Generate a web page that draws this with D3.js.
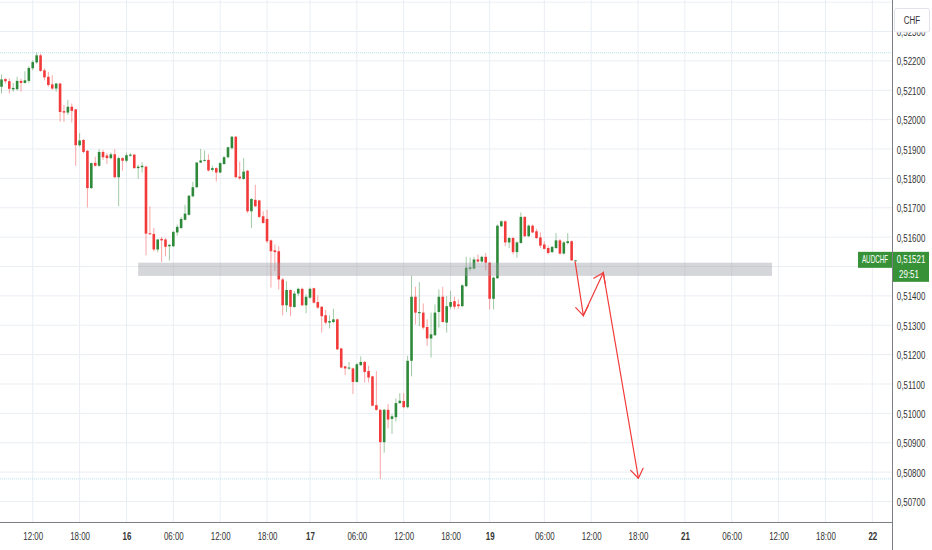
<!DOCTYPE html>
<html>
<head>
<meta charset="utf-8">
<script src="https://cdn.jsdelivr.net/npm/d3@7"></script>
<style>
  html, body { margin: 0; padding: 0; background: #fff; }
  svg { display: block; font-family: "Liberation Sans", Arial, sans-serif; }
</style>
</head>
<body>
<svg id="chart" width="932" height="550"></svg>
<script>
// AUDCHF, 30 minute bars
const symbol = "AUDCHF";
const currency = "CHF";
const countdown = "29:51";

const opens = [
  0.52112,0.52138,0.52131,0.52103,0.52104,0.52132,0.52125,0.52132,0.52175,0.52195,
  0.52219,0.52168,0.52146,0.52120,0.52106,0.52123,0.52029,0.52024,0.52044,0.52035,
  0.51913,0.51931,0.51894,0.51767,0.51853,0.51843,0.51890,0.51878,0.51869,0.51882,
  0.51804,0.51869,0.51860,0.51877,0.51881,0.51835,0.51838,0.51840,0.51613,0.51611,
  0.51558,0.51594,0.51592,0.51569,0.51569,0.51616,0.51631,0.51659,0.51676,0.51739,
  0.51770,0.51854,0.51860,0.51863,0.51829,0.51835,0.51820,0.51849,0.51872,0.51903,
  0.51942,0.51806,0.51798,0.51826,0.51688,0.51727,0.51725,0.51671,0.51662,0.51589,
  0.51555,0.51552,0.51456,0.51368,0.51420,0.51362,0.51408,0.51424,0.51368,0.51394,
  0.51426,0.51379,0.51363,0.51334,0.51309,0.51311,0.51320,0.51221,0.51160,0.51153,
  0.51153,0.51107,0.51164,0.51175,0.51144,0.51126,0.51028,0.51012,0.50902,0.51012,
  0.50981,0.50987,0.51035,0.51042,0.51021,0.51179,0.51397,0.51341,0.51343,0.51294,
  0.51255,0.51266,0.51345,0.51397,0.51309,0.51363,0.51382,0.51371,0.51365,0.51433,
  0.51492,0.51493,0.51524,0.51517,0.51533,0.51513,0.51390,0.51460,0.51637,0.51654,
  0.51582,0.51597,0.51549,0.51580,0.51669,0.51603,0.51639,0.51620,0.51599,0.51575,
  0.51563,0.51549,0.51563,0.51589,0.51544,0.51580,0.51586,0.51520
];
const highs = [
  0.52154,0.52142,0.52140,0.52125,0.52146,0.52140,0.52165,0.52182,0.52202,0.52228,
  0.52225,0.52174,0.52163,0.52151,0.52125,0.52125,0.52050,0.52067,0.52055,0.52036,
  0.51954,0.51933,0.51897,0.51854,0.51874,0.51899,0.51897,0.51886,0.51888,0.51899,
  0.51874,0.51872,0.51888,0.51886,0.51882,0.51846,0.51855,0.51843,0.51705,0.51631,
  0.51594,0.51601,0.51597,0.51575,0.51620,0.51643,0.51669,0.51710,0.51743,0.51788,
  0.51855,0.51900,0.51895,0.51882,0.51843,0.51838,0.51855,0.51877,0.51908,0.51944,
  0.51944,0.51857,0.51869,0.51829,0.51733,0.51778,0.51727,0.51688,0.51693,0.51592,
  0.51575,0.51569,0.51462,0.51450,0.51422,0.51416,0.51428,0.51428,0.51405,0.51428,
  0.51428,0.51402,0.51365,0.51352,0.51334,0.51356,0.51323,0.51224,0.51162,0.51175,
  0.51156,0.51171,0.51194,0.51178,0.51162,0.51128,0.51144,0.51015,0.51015,0.51032,
  0.50998,0.51051,0.51069,0.51069,0.51196,0.51469,0.51431,0.51447,0.51374,0.51320,
  0.51343,0.51371,0.51422,0.51431,0.51399,0.51416,0.51397,0.51388,0.51439,0.51533,
  0.51530,0.51533,0.51541,0.51537,0.51546,0.51515,0.51465,0.51643,0.51657,0.51657,
  0.51601,0.51601,0.51586,0.51684,0.51671,0.51643,0.51643,0.51628,0.51616,0.51586,
  0.51571,0.51569,0.51614,0.51594,0.51586,0.51614,0.51589,0.51522
];
const lows = [
  0.52089,0.52123,0.52089,0.52095,0.52098,0.52095,0.52123,0.52125,0.52168,0.52191,
  0.52163,0.52134,0.52112,0.52101,0.52095,0.51993,0.51993,0.52016,0.51990,0.51843,
  0.51908,0.51886,0.51701,0.51764,0.51840,0.51840,0.51863,0.51849,0.51865,0.51801,
  0.51705,0.51826,0.51854,0.51874,0.51833,0.51799,0.51820,0.51538,0.51609,0.51552,
  0.51549,0.51515,0.51535,0.51520,0.51567,0.51605,0.51628,0.51657,0.51673,0.51736,
  0.51767,0.51852,0.51857,0.51823,0.51823,0.51789,0.51818,0.51846,0.51869,0.51899,
  0.51801,0.51795,0.51795,0.51682,0.51631,0.51703,0.51665,0.51646,0.51580,0.51428,
  0.51484,0.51422,0.51334,0.51345,0.51331,0.51360,0.51399,0.51365,0.51341,0.51390,
  0.51374,0.51356,0.51275,0.51303,0.51289,0.51307,0.51216,0.51153,0.51130,0.51148,
  0.51066,0.51105,0.51162,0.51105,0.51105,0.51024,0.51009,0.50777,0.50866,0.50949,
  0.50930,0.50972,0.51032,0.51017,0.51017,0.51126,0.51303,0.51297,0.51286,0.51230,
  0.51190,0.51264,0.51292,0.51309,0.51275,0.51356,0.51354,0.51356,0.51363,0.51431,
  0.51484,0.51490,0.51513,0.51513,0.51487,0.51354,0.51354,0.51458,0.51635,0.51569,
  0.51563,0.51541,0.51530,0.51578,0.51601,0.51601,0.51614,0.51594,0.51563,0.51558,
  0.51541,0.51546,0.51560,0.51541,0.51541,0.51575,0.51519,0.51520
];
const closes = [
  0.52137,0.52131,0.52105,0.52108,0.52132,0.52125,0.52134,0.52176,0.52196,0.52219,
  0.52166,0.52144,0.52118,0.52106,0.52123,0.52026,0.52024,0.52044,0.52030,0.51913,
  0.51929,0.51890,0.51767,0.51852,0.51843,0.51890,0.51872,0.51869,0.51882,0.51804,
  0.51869,0.51860,0.51879,0.51881,0.51835,0.51840,0.51843,0.51612,0.51610,0.51558,
  0.51592,0.51589,0.51567,0.51574,0.51618,0.51635,0.51662,0.51680,0.51741,0.51770,
  0.51854,0.51861,0.51863,0.51827,0.51835,0.51820,0.51852,0.51872,0.51906,0.51942,
  0.51804,0.51800,0.51823,0.51688,0.51730,0.51705,0.51669,0.51648,0.51586,0.51552,
  0.51549,0.51456,0.51368,0.51420,0.51363,0.51408,0.51424,0.51368,0.51397,0.51424,
  0.51377,0.51360,0.51331,0.51309,0.51314,0.51320,0.51218,0.51156,0.51153,0.51156,
  0.51107,0.51167,0.51175,0.51141,0.51122,0.51026,0.51012,0.50902,0.51012,0.50979,
  0.50990,0.51035,0.51043,0.51021,0.51179,0.51397,0.51343,0.51345,0.51292,0.51255,
  0.51269,0.51343,0.51397,0.51311,0.51365,0.51379,0.51363,0.51365,0.51436,0.51496,
  0.51497,0.51524,0.51517,0.51533,0.51513,0.51390,0.51462,0.51639,0.51654,0.51582,
  0.51597,0.51549,0.51582,0.51669,0.51603,0.51639,0.51616,0.51597,0.51571,0.51560,
  0.51546,0.51567,0.51589,0.51544,0.51582,0.51586,0.51521,0.51521
];

// time axis: bar index of each tick and its label
const timeTickBars = [8, 20, 32, 44, 56, 68, 79, 91, 103, 115, 125, 139, 151, 163, 175, 187, 199, 211, 223];
const timeTickLabels = ["12:00", "18:00", "16", "06:00", "12:00", "18:00", "17", "06:00", "12:00", "18:00",
  "19", "06:00", "12:00", "18:00", "21", "06:00", "12:00", "18:00", "22"];

// price axis: grid levels and the levels that get a label
const priceGrid = d3.range(507, 525).map((d) => d / 1000);
const priceLabels = d3.range(507, 524).map((d) => d / 1000);

// drawn annotations: support zone and projected path (bar index / price)
const zoneBars = [35, 197.3];
const zonePrices = [0.51468, 0.51513];
const arrowBars = [146.9, 149.0, 154.1, 163.1];
const arrowPrices = [0.51516, 0.51333, 0.51479, 0.50779];

const svg = d3.select("#chart");
const height = +svg.attr("height");
const plotRight = 892;
const plotBottom = 522;
const squeeze = 0.69; // the screenshot text is horizontally narrow

const up = "#2e8a3a";
const down = "#f23a3a";
const labelGreen = "#379237";
const textColor = "#333";

const candles = opens.map((o, i) => ({ i, o, h: highs[i], l: lows[i], c: closes[i] }));

const x = d3.scaleLinear().domain([-0.384, 228.04]).range([0, plotRight]);
const y = d3.scaleLinear().domain([0.506301, 0.524074]).range([plotBottom, 0]);

const fmtPrice = (d) => d3.format(".5f")(d).replace(".", ",");
const last = closes[closes.length - 1];
const ly = y(last);

// grid
const grid = svg.append("g");
grid.selectAll(".hgrid")
  .data(priceGrid)
  .enter()
  .append("line")
  .attr("x1", 0)
  .attr("x2", plotRight)
  .attr("y1", (d) => y(d))
  .attr("y2", (d) => y(d))
  .attr("stroke", "#e9eef4")
  .attr("stroke-width", 1);

grid.selectAll(".vgrid")
  .data(timeTickBars)
  .enter()
  .append("line")
  .attr("x1", (d) => x(d))
  .attr("x2", (d) => x(d))
  .attr("y1", 0)
  .attr("y2", plotBottom)
  .attr("stroke", "#e9eef4")
  .attr("stroke-width", 1);

// highest / lowest price lines
grid.selectAll(".hilo")
  .data([d3.max(highs), d3.min(lows)])
  .enter()
  .append("line")
  .attr("x1", 0)
  .attr("x2", plotRight)
  .attr("y1", (d) => y(d))
  .attr("y2", (d) => y(d))
  .attr("stroke", "#b6e3ee")
  .attr("stroke-width", 1)
  .attr("stroke-dasharray", "1,1");

// candles
const g = svg.append("g");
const bodyWidth = 2.6;

g.selectAll(".wick")
  .data(candles)
  .enter()
  .append("line")
  .attr("x1", (d) => x(d.i))
  .attr("x2", (d) => x(d.i))
  .attr("y1", (d) => y(d.h))
  .attr("y2", (d) => y(d.l))
  .attr("stroke", (d) => (d.c >= d.o ? up : down))
  .attr("stroke-opacity", 0.45)
  .attr("stroke-width", 1);

g.selectAll(".body")
  .data(candles)
  .enter()
  .append("rect")
  .attr("x", (d) => x(d.i) - bodyWidth / 2)
  .attr("width", bodyWidth)
  .attr("y", (d) => y(Math.max(d.o, d.c)))
  .attr("height", (d) => Math.max(1, Math.abs(y(d.o) - y(d.c))))
  .attr("fill", (d) => (d.c >= d.o ? up : down));

// support zone
svg.append("rect")
  .attr("x", x(zoneBars[0]))
  .attr("width", x(zoneBars[1]) - x(zoneBars[0]))
  .attr("y", y(zonePrices[1]))
  .attr("height", y(zonePrices[0]) - y(zonePrices[1]))
  .attr("fill", "#9598a1")
  .attr("fill-opacity", 0.4);

// projected path, each leg is an arrow
const pts = arrowBars.map((b, i) => [x(b), y(arrowPrices[i])]);
const arrows = svg.append("g")
  .attr("stroke", down)
  .attr("stroke-width", 1.2)
  .attr("fill", "none")
  .attr("stroke-linecap", "round");

arrows.append("path").attr("d", d3.line()(pts));

const headLen = 11;
const headAngle = (35 * Math.PI) / 180;
for (let k = 1; k < pts.length; k++) {
  const [x0, y0] = pts[k - 1];
  const [x1, y1] = pts[k];
  const a = Math.atan2(y0 - y1, x0 - x1);
  [a - headAngle, a + headAngle].forEach((t) => {
    arrows.append("line")
      .attr("x1", x1)
      .attr("y1", y1)
      .attr("x2", x1 + headLen * Math.cos(t))
      .attr("y2", y1 + headLen * Math.sin(t));
  });
}

// axes (labels hidden under the last price box are skipped)
const visibleLabels = priceLabels.filter((d) => Math.abs(y(d) - (ly + 6.5)) > 21);
const yAxisG = svg.append("g")
  .attr("transform", `translate(${plotRight},0)`)
  .call(d3.axisRight(y).tickValues(visibleLabels).tickSize(0).tickFormat(fmtPrice));
yAxisG.select(".domain").remove();
yAxisG.attr("font-family", null).attr("font-size", null);
yAxisG.selectAll("text")
  .attr("x", null)
  .attr("dy", null)
  .attr("dominant-baseline", "central")
  .attr("text-anchor", "middle")
  .attr("transform", `translate(19,0) scale(${squeeze},1)`)
  .attr("fill", textColor)
  .style("font-size", "11.5px");

const xAxisG = svg.append("g")
  .attr("transform", `translate(0,${plotBottom})`)
  .call(d3.axisBottom(x).tickValues(timeTickBars).tickSize(0).tickFormat((d, i) => timeTickLabels[i]));
xAxisG.select(".domain").remove();
xAxisG.attr("font-family", null).attr("font-size", null);
xAxisG.selectAll("text")
  .attr("y", null)
  .attr("dy", null)
  .attr("dominant-baseline", "central")
  .attr("transform", `translate(0,14) scale(${squeeze},1)`)
  .attr("fill", textColor)
  .style("font-size", "11.5px")
  .style("font-weight", (d, i) => (timeTickLabels[i].includes(":") ? 400 : 700));

svg.append("line")
  .attr("x1", 0)
  .attr("x2", plotRight)
  .attr("y1", plotBottom + 0.5)
  .attr("y2", plotBottom + 0.5)
  .attr("stroke", "#7b7e85");

svg.append("line")
  .attr("x1", plotRight + 0.5)
  .attr("x2", plotRight + 0.5)
  .attr("y1", 0)
  .attr("y2", height)
  .attr("stroke", "#7b7e85");

// currency box over the top of the price scale
svg.append("rect")
  .attr("x", 894.5)
  .attr("y", 8.5)
  .attr("width", 35)
  .attr("height", 23.5)
  .attr("rx", 2)
  .attr("fill", "#fff")
  .attr("stroke", "#e0e3eb");
svg.append("text")
  .attr("transform", `translate(912,20) scale(${squeeze},1)`)
  .attr("text-anchor", "middle")
  .attr("dominant-baseline", "central")
  .attr("fill", textColor)
  .style("font-size", "11.5px")
  .text(currency);

// last price labels
svg.append("rect")
  .attr("x", 858)
  .attr("y", ly - 8.5)
  .attr("width", plotRight - 858)
  .attr("height", 16)
  .attr("fill", labelGreen);
svg.append("text")
  .attr("transform", `translate(875,${ly - 0.5}) scale(0.6,1)`)
  .attr("text-anchor", "middle")
  .attr("dominant-baseline", "central")
  .attr("fill", "#fff")
  .style("font-size", "10.5px")
  .text(symbol);

svg.append("rect")
  .attr("x", plotRight + 1)
  .attr("y", ly - 8.5)
  .attr("width", 36)
  .attr("height", 30)
  .attr("fill", labelGreen);
svg.append("text")
  .attr("transform", `translate(911,${ly - 1}) scale(${squeeze},1)`)
  .attr("text-anchor", "middle")
  .attr("dominant-baseline", "central")
  .attr("fill", "#fff")
  .style("font-size", "11.5px")
  .text(fmtPrice(last));
svg.append("text")
  .attr("transform", `translate(909,${ly + 13.5}) scale(${squeeze},1)`)
  .attr("text-anchor", "middle")
  .attr("dominant-baseline", "central")
  .attr("fill", "#fff")
  .style("font-size", "11.5px")
  .text(countdown);
</script>
</body>
</html>
